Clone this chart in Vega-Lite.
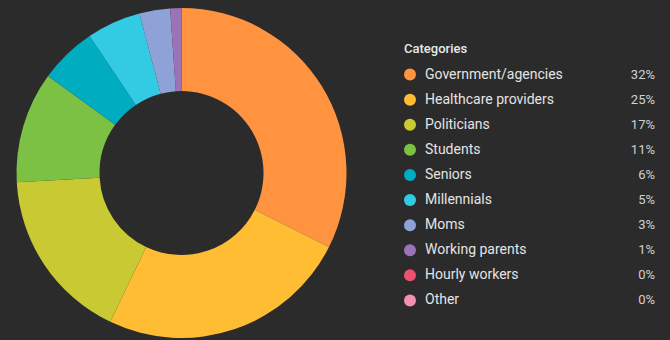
{
  "$schema": "https://vega.github.io/schema/vega-lite/v6.json",
  "background": "#2b2b2b",
  "padding": 0,
  "spacing": 0,
  "config": {"view": {"stroke": null}, "font": "Roboto"},
  "datasets": {
    "cats": [
      {"category": "Government/agencies", "share": 32.4, "label": "32%"},
      {"category": "Healthcare providers", "share": 24.7, "label": "25%"},
      {"category": "Politicians", "share": 17.0, "label": "17%"},
      {"category": "Students", "share": 10.9, "label": "11%"},
      {"category": "Seniors", "share": 5.6, "label": "6%"},
      {"category": "Millennials", "share": 5.3, "label": "5%"},
      {"category": "Moms", "share": 3.0, "label": "3%"},
      {"category": "Working parents", "share": 1.1, "label": "1%"},
      {"category": "Hourly workers", "share": 0, "label": "0%"},
      {"category": "Other", "share": 0, "label": "0%"}
    ]
  },
  "hconcat": [
    {
      "width": 363,
      "height": 346,
      "data": {"name": "cats"},
      "mark": {"type": "arc", "outerRadius": 165, "innerRadius": 82, "strokeWidth": 0},
      "encoding": {
        "theta": {"field": "share", "type": "quantitative", "stack": true},
        "order": {"field": "share", "sort": "descending"},
        "color": {
          "field": "category",
          "type": "nominal",
          "legend": null,
          "scale": {
            "domain": ["Government/agencies", "Healthcare providers", "Politicians", "Students", "Seniors", "Millennials", "Moms", "Working parents", "Hourly workers", "Other"],
            "range": ["#ff9340", "#ffbd33", "#c9c934", "#7cc044", "#00acbf", "#33cbe4", "#8fa2d8", "#9b73b7", "#ee506f", "#f58fb2"]
          }
        }
      }
    },
    {
      "width": 307,
      "height": 340,
      "data": {"name": "cats"},
      "title": {
        "text": "Categories",
        "anchor": "start",
        "frame": "group",
        "dx": 41,
        "dy": 60,
        "fontSize": 13,
        "fontWeight": 500,
        "color": "#e8e8e8",
        "font": "Roboto"
      },
      "encoding": {
        "y": {
          "field": "category",
          "type": "nominal",
          "sort": null,
          "axis": null,
          "scale": {"range": [62, 313], "paddingInner": 0, "paddingOuter": 0}
        }
      },
      "layer": [
        {
          "mark": {"type": "point", "shape": "circle", "filled": true, "size": 144, "opacity": 1},
          "encoding": {
            "x": {"value": 47},
            "color": {
              "field": "category",
              "type": "nominal",
              "legend": null,
              "scale": {
                "domain": ["Government/agencies", "Healthcare providers", "Politicians", "Students", "Seniors", "Millennials", "Moms", "Working parents", "Hourly workers", "Other"],
                "range": ["#ff9340", "#ffbd33", "#c9c934", "#7cc044", "#00acbf", "#33cbe4", "#8fa2d8", "#9b73b7", "#ee506f", "#f58fb2"]
              }
            }
          }
        },
        {
          "mark": {"type": "text", "align": "left", "baseline": "middle", "fontSize": 14, "color": "#e4e4e4", "font": "Roboto"},
          "encoding": {"x": {"value": 62}, "text": {"field": "category"}}
        },
        {
          "mark": {"type": "text", "align": "right", "baseline": "middle", "fontSize": 13, "color": "#d0d0d0", "font": "Roboto"},
          "encoding": {"x": {"value": 292}, "text": {"field": "label"}}
        }
      ]
    }
  ]
}
